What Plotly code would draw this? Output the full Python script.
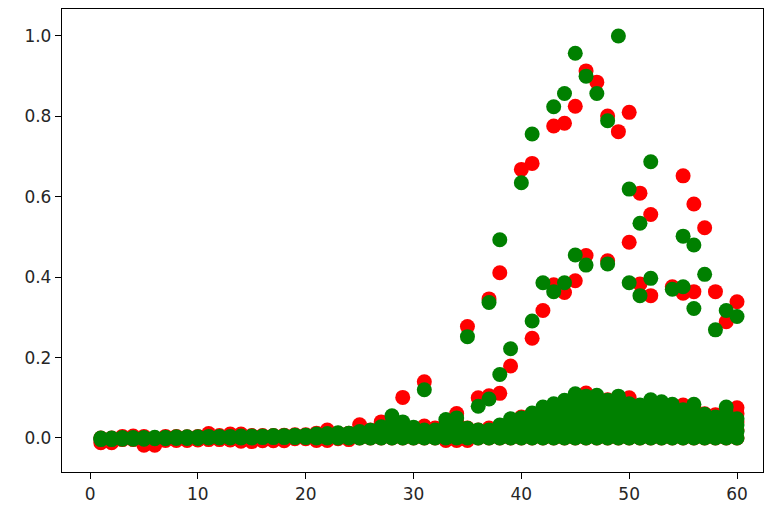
import plotly.graph_objects as go

# x positions 1..60
steps = list(range(1, 61))

# Dense low band: values at each step (index 0 -> step 1)
red_band = [
    [-0.012, 0.0], [-0.012, 0.0], [-0.004, 0.004], [-0.004, 0.005], [-0.018, 0.004],
    [-0.018, 0.0], [-0.006, 0.004], [-0.006, 0.004], [-0.006, 0.003], [-0.005, 0.004],
    [-0.004, 0.011], [-0.004, 0.006], [-0.005, 0.010], [-0.008, 0.010], [-0.009, 0.006],
    [-0.007, 0.006], [-0.007, 0.006], [-0.007, 0.007], [-0.002, 0.008], [-0.002, 0.008],
    [-0.006, 0.012], [-0.006, 0.020], [-0.002, 0.012], [-0.004, 0.012], [0.0, 0.015, 0.033],
    [0.0, 0.010, 0.020], [0.0, 0.020, 0.040], [0.0, 0.020, 0.035], [0.0, 0.020, 0.035], [0.0, 0.012, 0.024],
    [0.0, 0.012, 0.030], [0.0, 0.010, 0.025], [-0.006, 0.015, 0.035], [-0.006, 0.020, 0.040], [-0.006, 0.012, 0.025],
    [0.0, 0.010, 0.020], [0.0, 0.010, 0.025], [0.0, 0.015, 0.030], [0.0, 0.020, 0.040], [0.0, 0.025, 0.052],
    [0.0, 0.020, 0.040, 0.060], [0.0, 0.020, 0.045, 0.070], [0.0, 0.020, 0.040, 0.060, 0.080],
    [0.0, 0.020, 0.045, 0.070, 0.090], [0.0, 0.020, 0.040, 0.060, 0.080, 0.100],
    [0.0, 0.020, 0.040, 0.060, 0.085, 0.112], [0.0, 0.020, 0.040, 0.060, 0.080, 0.100],
    [0.0, 0.020, 0.040, 0.060, 0.075, 0.095], [0.0, 0.020, 0.045, 0.070, 0.090],
    [0.0, 0.020, 0.040, 0.060, 0.080, 0.100], [0.0, 0.020, 0.040, 0.060, 0.080],
    [0.0, 0.020, 0.040, 0.065, 0.085], [0.0, 0.020, 0.040, 0.060, 0.080],
    [0.0, 0.020, 0.040, 0.060, 0.080], [0.0, 0.020, 0.040, 0.060, 0.082],
    [0.0, 0.020, 0.040, 0.060, 0.075], [0.0, 0.020, 0.040, 0.060], [0.0, 0.020, 0.040, 0.058],
    [0.0, 0.020, 0.040, 0.060], [0.0, 0.020, 0.040, 0.060, 0.075],
]

green_band = [
    [-0.004, 0.0], [-0.004, 0.0], [-0.003, 0.001], [-0.003, 0.001], [-0.003, 0.001],
    [-0.002, 0.002], [-0.002, 0.002], [-0.001, 0.003], [-0.001, 0.003], [-0.001, 0.003],
    [0.0, 0.004], [0.0, 0.004], [0.0, 0.004], [0.0, 0.005], [0.0, 0.005],
    [0.001, 0.005], [0.001, 0.006], [0.001, 0.006], [0.001, 0.007], [0.001, 0.007],
    [0.0, 0.005, 0.010], [0.0, 0.006, 0.011], [0.0, 0.006, 0.013], [0.0, 0.006, 0.012], [0.0, 0.008, 0.016],
    [0.0, 0.010, 0.019], [0.0, 0.014, 0.028], [0.0, 0.018, 0.036, 0.055], [0.0, 0.020, 0.040], [0.0, 0.013, 0.027],
    [0.0, 0.010, 0.020], [0.0, 0.010, 0.020], [0.0, 0.016, 0.031, 0.046], [0.0, 0.017, 0.034, 0.050], [0.0, 0.012, 0.024],
    [0.0, 0.010, 0.020], [0.0, 0.010, 0.020], [0.0, 0.016, 0.032], [0.0, 0.016, 0.032, 0.048], [0.0, 0.017, 0.034, 0.050],
    [0.0, 0.015, 0.030, 0.046, 0.062], [0.0, 0.016, 0.032, 0.048, 0.062, 0.077],
    [0.0, 0.016, 0.032, 0.048, 0.064, 0.085], [0.0, 0.016, 0.032, 0.048, 0.064, 0.079, 0.094],
    [0.0, 0.016, 0.032, 0.048, 0.064, 0.080, 0.095, 0.110], [0.0, 0.016, 0.032, 0.048, 0.064, 0.080, 0.092, 0.104],
    [0.0, 0.016, 0.032, 0.048, 0.064, 0.080, 0.093, 0.106], [0.0, 0.016, 0.032, 0.048, 0.064, 0.079, 0.094],
    [0.0, 0.016, 0.032, 0.048, 0.064, 0.080, 0.092, 0.104], [0.0, 0.016, 0.032, 0.048, 0.064, 0.085],
    [0.0, 0.016, 0.032, 0.048, 0.064, 0.082], [0.0, 0.016, 0.032, 0.048, 0.064, 0.080, 0.095],
    [0.0, 0.016, 0.032, 0.048, 0.064, 0.078, 0.090], [0.0, 0.016, 0.032, 0.048, 0.064, 0.084],
    [0.0, 0.016, 0.032, 0.048, 0.070], [0.0, 0.016, 0.032, 0.048, 0.064, 0.084],
    [0.0, 0.016, 0.032, 0.046, 0.059], [0.0, 0.016, 0.032, 0.052], [0.0, 0.016, 0.032, 0.048, 0.062, 0.077],
    [0.0, 0.016, 0.032, 0.048],
]

# Higher readings standing out from the band
red_upper_x = [29, 31, 34, 35, 36, 37, 37, 38, 38, 39, 40, 41, 41, 42, 43, 43, 44, 44,
               45, 45, 46, 46, 47, 48, 48, 49, 50, 50, 51, 51, 52, 52, 54, 55, 55,
               56, 56, 57, 58, 59, 60]
red_upper_y = [0.101, 0.140, 0.061, 0.277, 0.100, 0.346, 0.105, 0.411, 0.111, 0.179,
               0.668, 0.683, 0.248, 0.317, 0.776, 0.381, 0.783, 0.362, 0.825, 0.391,
               0.913, 0.454, 0.885, 0.801, 0.441, 0.762, 0.810, 0.487, 0.609, 0.383,
               0.556, 0.354, 0.376, 0.652, 0.360, 0.582, 0.364, 0.523, 0.364, 0.289, 0.339]

green_upper_x = [31, 35, 36, 37, 37, 38, 38, 39, 40, 41, 41, 42, 43, 43, 44, 44, 45, 45,
                 46, 46, 47, 48, 48, 49, 50, 50, 51, 51, 52, 52, 54, 55, 55, 56, 56,
                 57, 58, 59, 60]
green_upper_y = [0.120, 0.252, 0.079, 0.337, 0.097, 0.493, 0.158, 0.222, 0.635, 0.756,
                 0.291, 0.386, 0.824, 0.364, 0.857, 0.386, 0.957, 0.455, 0.900, 0.430,
                 0.857, 0.789, 0.433, 1.000, 0.619, 0.386, 0.534, 0.354, 0.687, 0.397,
                 0.370, 0.502, 0.376, 0.480, 0.322, 0.407, 0.269, 0.317, 0.302]

x_ticks = [0, 10, 20, 30, 40, 50, 60]
y_ticks = [0.0, 0.2, 0.4, 0.6, 0.8, 1.0]


def flatten(band, ux, uy):
    xs, ys = [], []
    for step, vals in zip(steps, band):
        for v in vals:
            xs.append(step)
            ys.append(v)
    xs.extend(ux)
    ys.extend(uy)
    return xs, ys


rx, ry = flatten(red_band, red_upper_x, red_upper_y)
gx, gy = flatten(green_band, green_upper_x, green_upper_y)

fig = go.Figure()
fig.add_trace(go.Scatter(x=rx, y=ry, mode="markers",
                         marker=dict(color="#ff0000", size=15, line=dict(width=0))))
fig.add_trace(go.Scatter(x=gx, y=gy, mode="markers",
                         marker=dict(color="#008000", size=15, line=dict(width=0))))

axis_common = dict(showline=True, mirror=True, linecolor="black", linewidth=1.3,
                   ticks="outside", ticklen=6, tickwidth=1.3, tickcolor="black",
                   showgrid=False, zeroline=False,
                   tickfont=dict(family="DejaVu Sans", size=17, color="#262626"))

fig.update_xaxes(range=[-2.6, 62.41], tickvals=x_ticks, **axis_common)
fig.update_yaxes(range=[-0.0846, 1.067], tickvals=y_ticks, tickformat=".1f", **axis_common)

fig.update_layout(width=765, height=510, showlegend=False,
                  margin=dict(l=62, r=2, t=9, b=38),
                  paper_bgcolor="white", plot_bgcolor="white")

fig.write_html("out.html")
